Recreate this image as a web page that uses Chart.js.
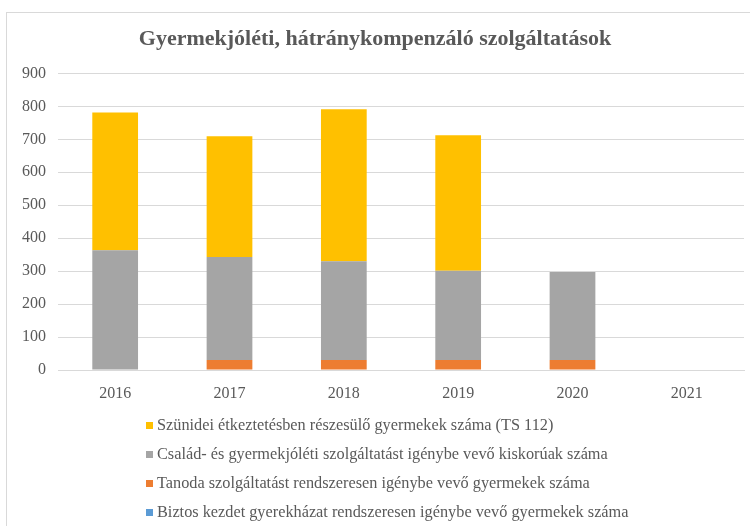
<!DOCTYPE html>
<html>
<head>
<meta charset="utf-8">
<script src="https://cdn.jsdelivr.net/npm/chart.js@4"></script>
<style>
body{margin:0;background:#fff;}
#wrap{position:relative;width:750px;height:526px;}
#frame{position:absolute;left:6px;top:12px;width:760px;height:540px;border:1px solid #d9d9d9;pointer-events:none;}
#legend{position:absolute;left:146px;top:413px;font-family:"Liberation Serif","Times New Roman",serif;font-size:16.3px;color:#595959;}
#legend div{height:29px;line-height:24px;white-space:nowrap;}
#legend span.box{display:inline-block;width:7px;height:7px;margin-right:4px;vertical-align:1px;}
</style>
</head>
<body>
<div id="wrap">
<canvas id="myChart" width="750" height="526"></canvas>
<div id="frame"></div>
<div id="legend"></div>
</div>
<script>
var years = ["2016","2017","2018","2019","2020","2021"];
var biztosData = [0,0,0,0,0,0];
var tanodaData = [0,30,30,30,30,0];
var csaladData = [363,313,300,271,267,0];
var szunideiData = [418,366,461,411,0,0];

var seriesNames = [
	"Biztos kezdet gyerekházat rendszeresen igénybe vevő gyermekek száma",
	"Tanoda szolgáltatást rendszeresen igénybe vevő gyermekek száma",
	"Család- és gyermekjóléti szolgáltatást igénybe vevő kiskorúak száma",
	"Szünidei étkeztetésben részesülő gyermekek száma (TS 112)"
];
var seriesColors = ["#5B9BD5","#ED7D31","#A5A5A5","#FFC000"];
var seriesValues = [biztosData,tanodaData,csaladData,szunideiData];

var datasets = [];
for(let i=0;i<seriesNames.length;i++){
	datasets.push({
		label: seriesNames[i],
		data: seriesValues[i],
		backgroundColor: seriesColors[i],
		barPercentage: 1,
		categoryPercentage: 0.4
	});
}

var serif = "'Liberation Serif','Times New Roman',serif";

var chart = new Chart("myChart", {
	type: "bar",
	data: {
		labels: years,
		datasets: datasets
	},
	options: {
		responsive: false,
		animation: false,
		layout: {padding: {left: 6, right: 6, top: 0, bottom: 126}},
		plugins: {
			legend: {display: false},
			tooltip: {enabled: false},
			title: {
				display: true,
				text: "Gyermekjóléti, hátránykompenzáló szolgáltatások",
				color: "#595959",
				font: {family: serif, size: 22, weight: "bold"},
				padding: {top: 26, bottom: 21}
			}
		},
		scales: {
			x: {
				stacked: true,
				grid: {display: false},
				border: {color: "#d9d9d9"},
				ticks: {color: "#595959", font: {family: serif, size: 16}, padding: 6},
				afterFit: function(s){ s.height = 30; }
			},
			y: {
				stacked: true,
				min: 0,
				max: 900,
				ticks: {stepSize: 100, color: "#595959", font: {family: serif, size: 16}, padding: 12},
				grid: {color: "#d9d9d9", drawTicks: false},
				border: {display: false},
				afterFit: function(s){ s.width = 52; }
			}
		}
	}
});

// legend, listed top to bottom like the stack
var leg = document.getElementById("legend");
for(let i=seriesNames.length-1;i>=0;i--){
	var row = document.createElement("div");
	row.innerHTML = '<span class="box" style="background:'+seriesColors[i]+'"></span>'+seriesNames[i];
	leg.appendChild(row);
}
</script>
</body>
</html>
